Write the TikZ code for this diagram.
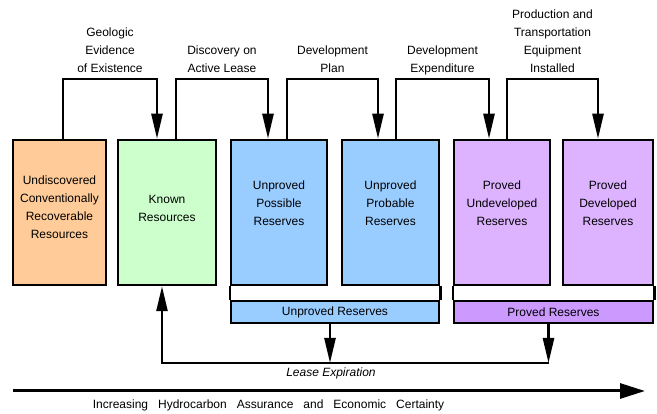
\documentclass[tikz,border=0pt]{standalone}
\usepackage{fontspec}
\setmainfont{Liberation Sans}
\newfontfamily\widefont[WordSpace=3]{Liberation Sans}
\usepackage{xcolor}
\usetikzlibrary{arrows.meta}
\definecolor{undisc}{HTML}{FFCC99}
\definecolor{known}{HTML}{CCFFCC}
\definecolor{unproved}{HTML}{99CCFF}
\definecolor{proved}{HTML}{DDB3FF}
\definecolor{provedband}{HTML}{CC99FF}
\tikzset{
	box/.style={draw, line width=2.5pt, minimum height=145pt, inner sep=0pt},
	band/.style={draw, line width=2.5pt, minimum height=22pt, inner sep=0pt, font=\fontsize{12}{18}\selectfont},
	txt/.style={align=center, inner sep=0pt, font=\fontsize{12}{18}\selectfont},
	lbl/.style={align=center, above=-3.5pt, font=\fontsize{12}{18}\selectfont, execute at end node=\strut},
	wire/.style={line width=2.5pt},
	flow/.style={line width=2.5pt, -{Triangle[length=25pt, width=11pt]}},
}

\begin{document}
\begin{tikzpicture}[x=1pt, y=-1pt]
	\useasboundingbox (0,0) rectangle (657,414);
	% Boxes and texts:
	\node[box, fill=undisc, minimum width=93pt](b1) at (59.5, 212.5){};
	\node[box, fill=known, minimum width=98pt](b2) at (167, 212.5){};
	\node[box, fill=unproved, minimum width=96pt](b3) at (279, 212.5){};
	\node[box, fill=unproved, minimum width=97pt](b4) at (390.5, 212.5){};
	\node[box, fill=proved, minimum width=96pt](b5) at (502, 212.5){};
	\node[box, fill=proved, minimum width=90pt](b6) at (608, 212.5){};
	\node[txt](t1) at ([yshift=5.5pt]b1.center){Undiscovered\\Conventionally\\Recoverable\\Resources};
	\node[txt](t2) at ([yshift=4.5pt]b2.center){Known\\Resources};
	\node[txt](t3) at ([yshift=9pt]b3.center){Unproved\\Possible\\Reserves};
	\node[txt](t4) at ([yshift=9pt]b4.center){Unproved\\Probable\\Reserves};
	\node[txt](t5) at ([yshift=9pt]b5.center){Proved\\Undeveloped\\Reserves};
	\node[txt](t6) at ([yshift=9pt]b6.center){Proved\\Developed\\Reserves};
	\node[band, fill=unproved, minimum width=208pt](ur) at (335, 312){Unproved Reserves};
	\node[band, fill=provedband, minimum width=199pt](pr) at (553.5, 312){Proved Reserves};
	\draw[wire] (b3.south west) -- (ur.north west);
	\draw[wire] (b4.south east) -- (ur.north east);
	\draw[wire] (b5.south west) -- (pr.north west);
	\draw[wire] (b6.south east) -- (pr.north east);
	% Steps along the top:
	\coordinate (top) at (0, 79);
	\draw[flow] ([xshift=3.5pt]b1.north) -- ([xshift=3.5pt]b1.north |- top) -- node[lbl](l1){Geologic\\Evidence\\of Existence} ([xshift=-10pt]b2.north |- top) -- ([xshift=-10pt]b2.north);
	\draw[flow] ([xshift=9pt]b2.north) -- ([xshift=9pt]b2.north |- top) -- node[lbl](l2){Discovery on\\Active Lease} ([xshift=-11pt]b3.north |- top) -- ([xshift=-11pt]b3.north);
	\draw[flow] ([xshift=8pt]b3.north) -- ([xshift=8pt]b3.north |- top) -- node[lbl](l3){Development\\Plan} ([xshift=-12.5pt]b4.north |- top) -- ([xshift=-12.5pt]b4.north);
	\draw[flow] ([xshift=5.5pt]b4.north) -- ([xshift=5.5pt]b4.north |- top) -- node[lbl](l4){Development\\Expenditure} ([xshift=-13pt]b5.north |- top) -- ([xshift=-13pt]b5.north);
	\draw[flow] ([xshift=5pt]b5.north) -- ([xshift=5pt]b5.north |- top) -- node[lbl](l5){Production and\\Transportation\\Equipment\\Installed} ([xshift=-10pt]b6.north |- top) -- ([xshift=-10pt]b6.north);
	% Lease expiration:
	\coordinate (lease) at (0, 363);
	\draw[flow] ([xshift=-5pt]ur.south) -- ([xshift=-5pt]ur.south |- lease);
	\draw[flow] ([xshift=-5pt]pr.south) -- ([xshift=-5pt]pr.south |- lease);
	\draw[flow] ([xshift=-5pt]pr.south |- lease) -| ([xshift=-5pt]b2.south);
	\node[txt, font=\fontsize{12}{18}\selectfont\itshape](le) at (331, 373){Lease Expiration};
	% Certainty axis:
	\coordinate (axL) at (13, 391);
	\coordinate (axR) at (645, 391);
	\draw[line width=3pt, -{Triangle[length=25pt, width=15pt]}] (axL) -- (axR);
	\node[txt, font=\widefont\fontsize{12}{18}\selectfont](ax) at (268.5, 405){Increasing Hydrocarbon Assurance and Economic Certainty};
\end{tikzpicture}
\end{document}
